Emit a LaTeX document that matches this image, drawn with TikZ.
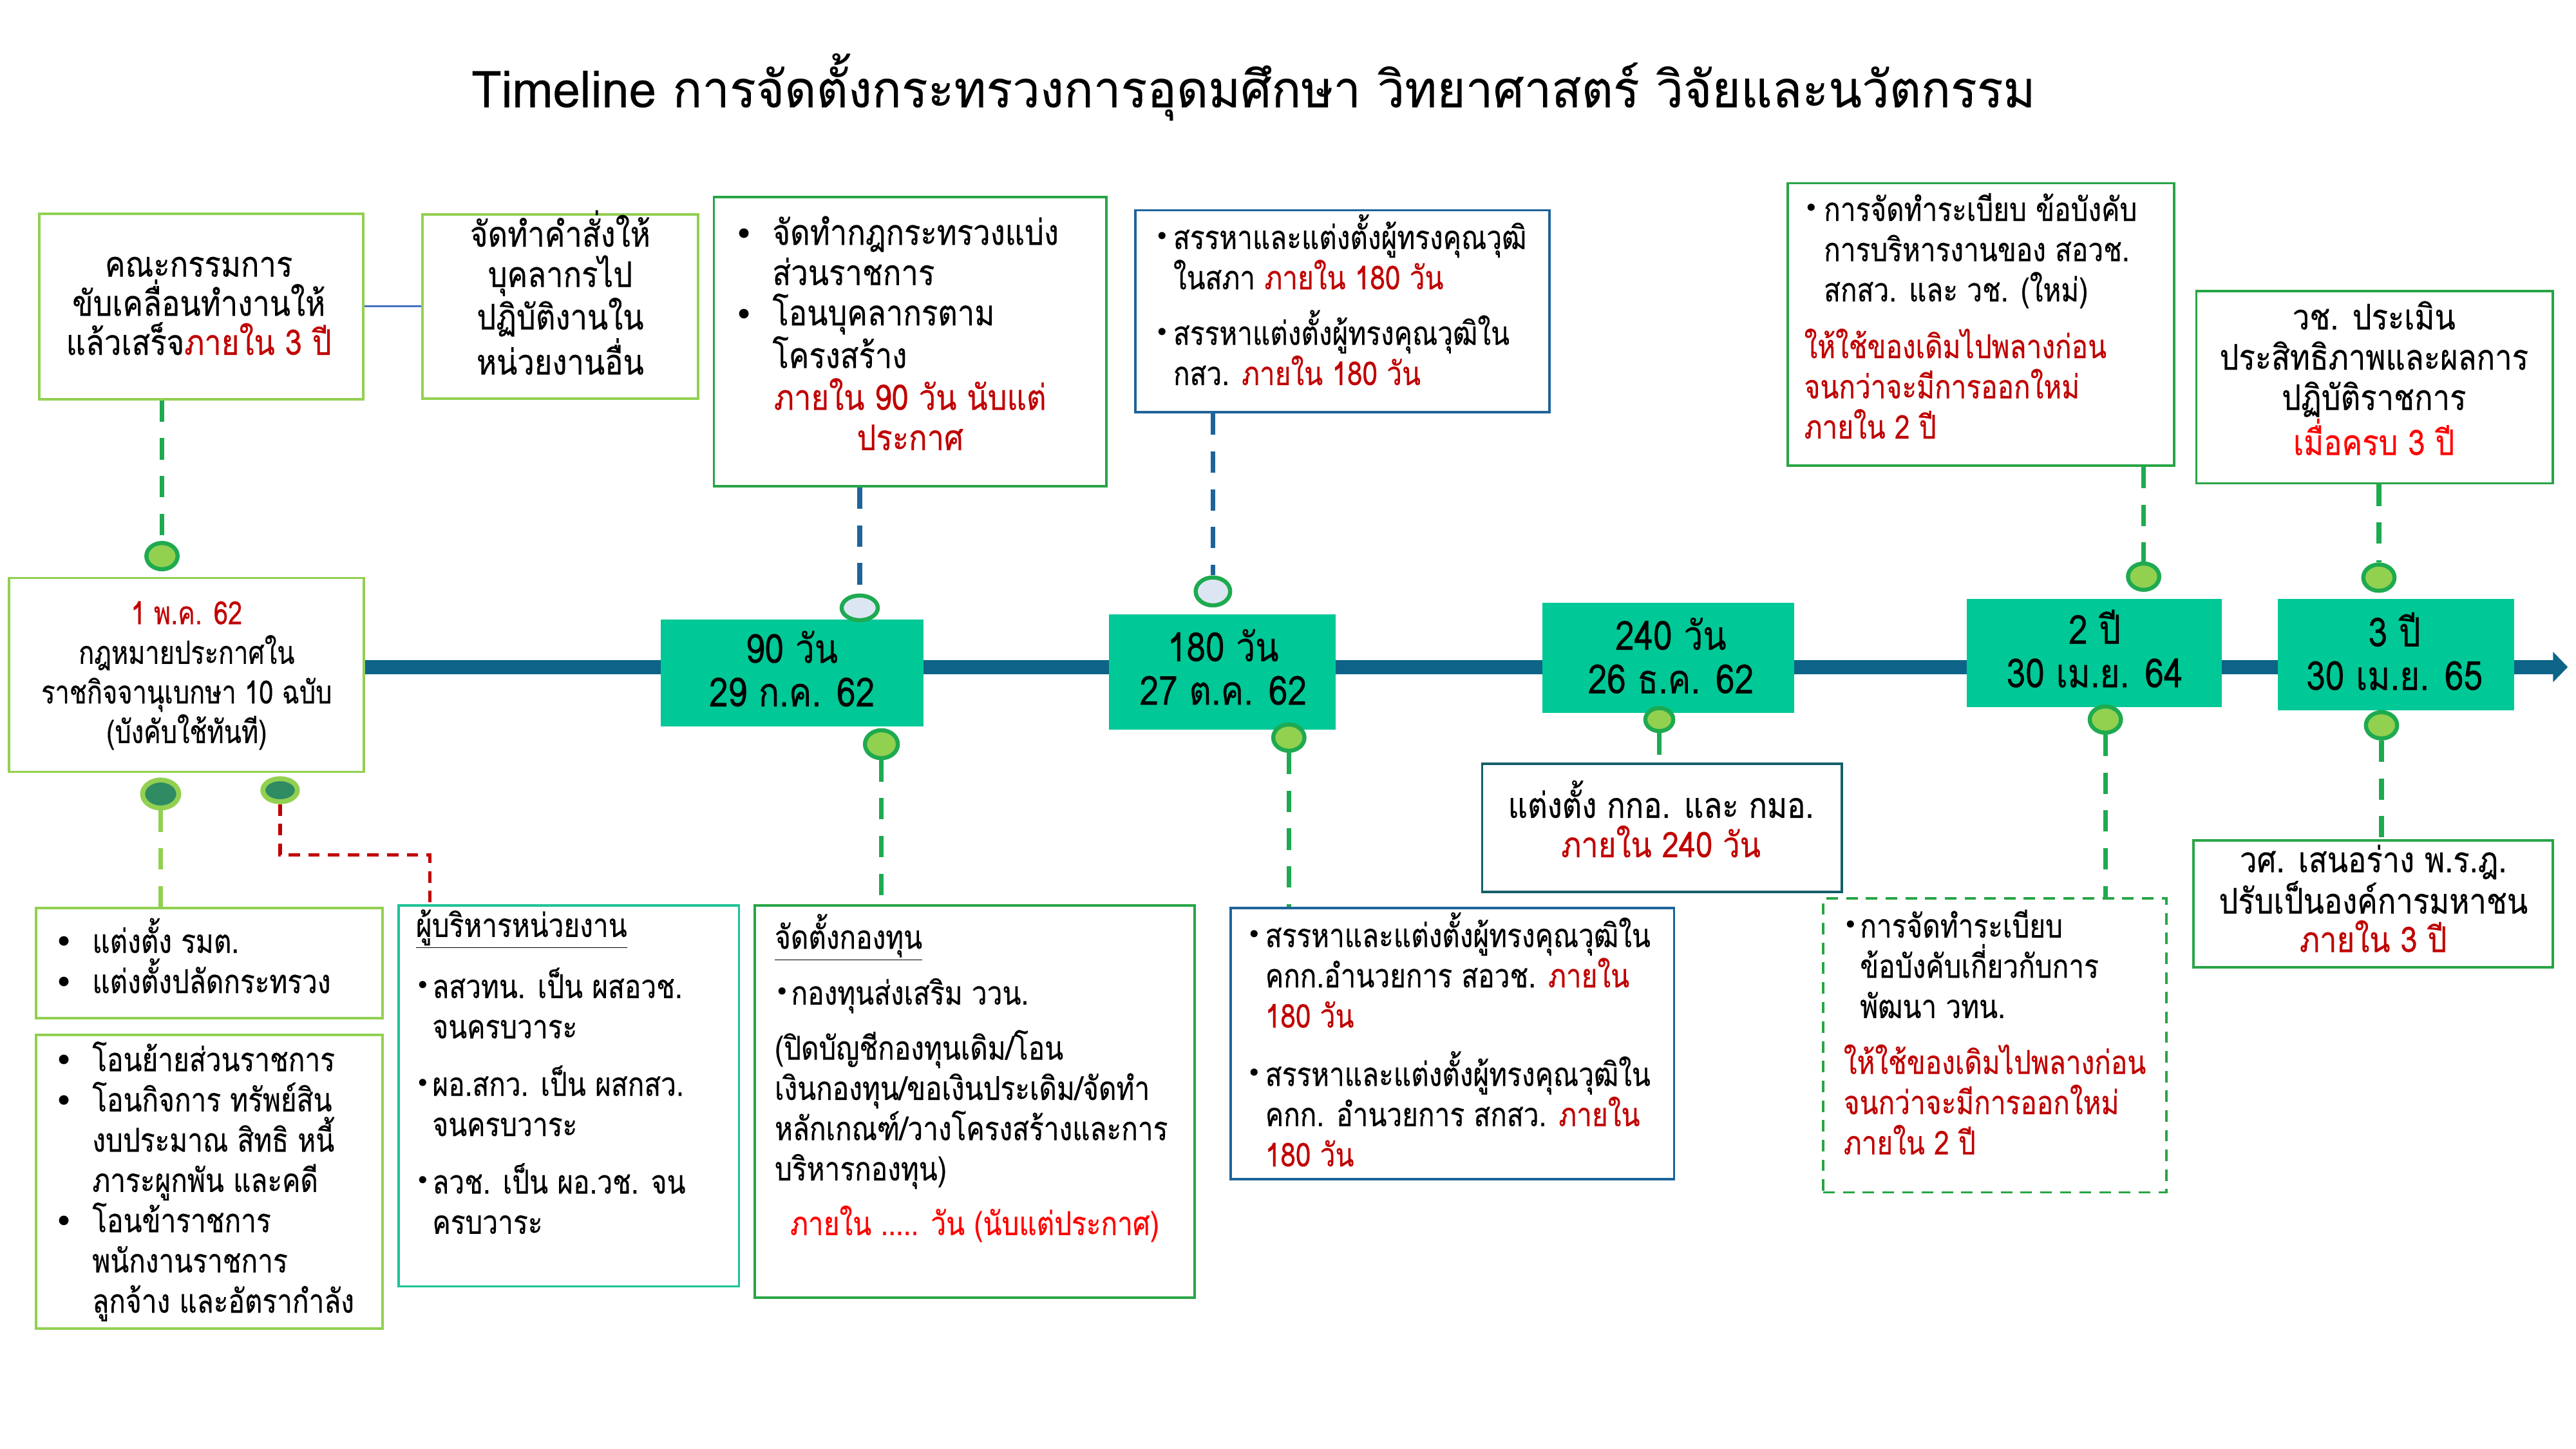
\documentclass[tikz,border=0pt]{standalone}
\usepackage{fontspec}
\setmainfont{Loma}[Script=Thai,FakeStretch=0.83,FakeBold=0.4]
\newfontfamily\fA{Loma}[Script=Thai,FakeStretch=0.86,FakeBold=0.4]
\newfontfamily\fS{Loma}[Script=Thai,FakeStretch=0.80,FakeBold=0.4]
\newfontfamily\fT{Loma}[Script=Thai,FakeStretch=0.85,FakeBold=0.3]
\newfontfamily\fTi{Loma}[Script=Thai,FakeStretch=0.96,FakeBold=0.3]
\newfontfamily\symf{DejaVu Sans}
\usetikzlibrary{arrows.meta,shapes.geometric}
\definecolor{tealbox}{RGB}{0,200,150}
\definecolor{barblue}{RGB}{14,100,136}
\definecolor{lgreen}{RGB}{146,208,80}
\definecolor{mgreen}{RGB}{40,165,70}
\definecolor{dgreen}{RGB}{30,170,80}
\definecolor{bblue}{RGB}{30,100,155}
\definecolor{hteal}{RGB}{30,195,150}
\definecolor{kteal}{RGB}{20,95,105}
\definecolor{dred}{RGB}{192,0,0}
\definecolor{bred}{RGB}{255,0,0}
\definecolor{paleblue}{RGB}{220,230,242}
\definecolor{darkfill}{RGB}{46,139,98}
\definecolor{linkblue}{RGB}{68,114,196}
\newcommand\bul{{\symf\fontsize{20}{20}\selectfont\raisebox{-0.5pt}{•}}}
\newcommand\sbul{{\symf\fontsize{15}{15}\selectfont\raisebox{2.5pt}{•}}}
\newcommand\bi[1]{\makebox[#1][l]{\bul}}
\newcommand\si[1]{\makebox[#1][l]{\sbul}}
\newcommand\ind[1]{\makebox[#1]{}}
\newcommand\rd[1]{\textcolor{dred}{#1}}
\newcommand\fsb{\fontsize{20}{24.5}\selectfont}
\newcommand\fsa{\fA\fontsize{21.5}{24.5}\selectfont}
\newcommand\fss{\fS\fontsize{19.5}{24.1}\selectfont}
\newcommand\fst{\fT\fontsize{24.5}{26.5}\selectfont}
\newcommand\fti{\fTi\fontsize{31}{34}\selectfont}
\begin{document}
\begin{tikzpicture}[x=1pt,y=-1pt,
  wbox/.style={draw, line width=1.5pt, fill=white, inner sep=0pt},
  tl/.style={fill=tealbox, inner sep=0pt},
  txt/.style={inner sep=0pt, align=left, anchor=base west, font=\fsb},
  ctxt/.style={inner sep=0pt, align=center, anchor=base, font=\fsb},
  atxt/.style={inner sep=0pt, align=center, anchor=base, font=\fsa},
  ttxt/.style={inner sep=0pt, align=center, anchor=base, font=\fst},
  dg/.style={draw=dgreen, line width=2.8pt, dash pattern=on 13pt off 10pt},
  db/.style={draw=bblue, line width=2.8pt, dash pattern=on 13pt off 10pt},
  dl/.style={draw=lgreen, line width=3pt, dash pattern=on 13pt off 10pt},
  dr/.style={draw=dred, line width=2pt, dash pattern=on 7pt off 5pt},
  dot/.style={ellipse, inner sep=0pt, minimum width=19pt, minimum height=16pt, line width=2.5pt},
  dotg/.style={dot, fill=lgreen, draw=dgreen},
  dotp/.style={dot, fill=paleblue, draw=dgreen, minimum width=22pt, minimum height=15pt},
  dotd/.style={dot, fill=darkfill, draw=lgreen, line width=3pt, minimum width=20pt, minimum height=15pt}]
\useasboundingbox (0,0) rectangle (1568,882);
\fill[white] (0,0) rectangle (1568,882);

% title
\node[inner sep=0pt, anchor=base, font=\fti] (title) at (763,65.3) {Timeline การจัดตั้งกระทรวงการอุดมศึกษา วิทยาศาสตร์ วิจัยและนวัตกรรม};

% timeline bar
\coordinate (barstart) at (221,406);
\coordinate (barend) at (1563,406);
\draw[barblue, line width=8.5pt, -{Triangle[length=9pt,width=18pt]}] (barstart) -- (barend);

% top boxes
\node[wbox, draw=lgreen, minimum width=197pt, minimum height=113pt] (A) at (122.5,186.5) {};
\node[wbox, draw=lgreen, minimum width=168pt, minimum height=112pt] (B) at (341,186.5) {};
\node[wbox, draw=mgreen, minimum width=239pt, minimum height=176pt] (C) at (554,208) {};
\node[wbox, draw=bblue, minimum width=252pt, minimum height=123pt] (D) at (817,189.5) {};
\node[wbox, draw=mgreen, minimum width=235pt, minimum height=172pt] (E) at (1205.8,197.5) {};
\node[wbox, draw=mgreen, minimum width=217pt, minimum height=117pt] (F) at (1445.4,235.7) {};
\draw[linkblue, line width=1.2pt] (A.east) -- (B.west);

\node[atxt, font=\fA\fontsize{21.5}{23.8}\selectfont] (Atx) at (121,216) {คณะกรรมการ\\ขับเคลื่อนทำงานให้\\แล้วเสร็จ\rd{ภายใน 3 ปี}};
\node[atxt] (Btx) at (341,228) {จัดทำคำสั่งให้\\บุคลากรไป\\ปฏิบัติงานใน\\หน่วยงานอื่น};
\node[atxt, align=left, anchor=base west] (Ctx) at (447,224) {\bi{23pt}จัดทำกฎกระทรวงแบ่ง\\\ind{23pt}ส่วนราชการ\\\bi{23pt}โอนบุคลากรตาม\\\ind{23pt}โครงสร้าง};
\node[atxt, text=dred] (Crd) at (554,274) {ภายใน 90 วัน นับแต่\\ประกาศ};
\node[txt] (Dtx) at (703,234.4) {\si{11pt}สรรหาและแต่งตั้งผู้ทรงคุณวุฒิ\\\ind{11pt}ในสภา \rd{ภายใน 180 วัน}\\[9.3pt]\si{11pt}สรรหาแต่งตั้งผู้ทรงคุณวุฒิใน\\\ind{11pt}กสว. \rd{ภายใน 180 วัน}};
\node[txt] (Etx) at (1098,267) {\si{12pt}การจัดทำระเบียบ ข้อบังคับ\\\ind{12pt}การบริหารงานของ สอวช.\\\ind{12pt}สกสว. และ วช. (ใหม่)\\[10pt]\rd{ให้ใช้ของเดิมไปพลางก่อน}\\\rd{จนกว่าจะมีการออกใหม่}\\\rd{ภายใน 2 ปี}};
\node[atxt] (Ftx) at (1445,277) {วช. ประเมิน\\ประสิทธิภาพและผลการ\\ปฏิบัติราชการ\\\textcolor{bred}{เมื่อครบ 3 ปี}};

% start box
\node[wbox, draw=lgreen, minimum width=216pt, minimum height=118pt] (S) at (113.5,410.8) {};
\node[ctxt, font=\fss] (Stx) at (113.6,452.3) {\rd{1 พ.ค. 62}\\กฎหมายประกาศใน\\ราชกิจจานุเบกษา 10 ฉบับ\\(บังคับใช้ทันที)};

% timeline boxes
\node[tl, minimum width=160pt, minimum height=65pt] (T1) at (482,409.5) {};
\node[tl, minimum width=138pt, minimum height=70pt] (T2) at (744,409) {};
\node[tl, minimum width=153pt, minimum height=67pt] (T3) at (1015.5,400.5) {};
\node[tl, minimum width=155pt, minimum height=66pt] (T4) at (1274.8,397.5) {};
\node[tl, minimum width=144pt, minimum height=68pt] (T5) at (1458.4,398.5) {};
\node[ttxt] (T1tx) at (482,430) {90 วัน\\29 ก.ค. 62};
\node[ttxt] (T2tx) at (744.5,429) {180 วัน\\27 ต.ค. 62};
\node[ttxt] (T3tx) at (1017,422) {240 วัน\\26 ธ.ค. 62};
\node[ttxt] (T4tx) at (1275,418.4) {2 ปี\\30 เม.ย. 64};
\node[ttxt] (T5tx) at (1457.5,420) {3 ปี\\30 เม.ย. 65};

% bottom boxes
\node[wbox, draw=lgreen, minimum width=211pt, minimum height=67pt] (G1) at (127.5,586.3) {};
\node[wbox, draw=lgreen, minimum width=211pt, minimum height=179pt] (G2) at (127.5,719.3) {};
\node[wbox, draw=hteal, minimum width=207pt, minimum height=232pt] (H) at (346.3,667) {};
\node[wbox, draw=mgreen, minimum width=268pt, minimum height=239pt] (I) at (593.3,670.5) {};
\node[wbox, draw=bblue, minimum width=270pt, minimum height=165pt] (J) at (884,635.3) {};
\node[wbox, draw=kteal, minimum width=219pt, minimum height=78pt] (K) at (1011.7,504) {};
\node[wbox, draw=mgreen, dash pattern=on 7pt off 5pt, minimum width=209pt, minimum height=179pt] (L) at (1214.3,636.3) {};
\node[wbox, draw=mgreen, minimum width=219pt, minimum height=77pt] (M) at (1444.5,550.2) {};

\node[txt] (G1tx) at (33,604.5) {\bi{23pt}แต่งตั้ง รมต.\\\bi{23pt}แต่งตั้งปลัดกระทรวง};
\node[txt] (G2tx) at (33,799) {\bi{23pt}โอนย้ายส่วนราชการ\\\bi{23pt}โอนกิจการ ทรัพย์สิน\\\ind{23pt}งบประมาณ สิทธิ หนี้\\\ind{23pt}ภาระผูกพัน และคดี\\\bi{23pt}โอนข้าราชการ\\\ind{23pt}พนักงานราชการ\\\ind{23pt}ลูกจ้าง และอัตรากำลัง};
\node[txt] (Htx) at (253,751) {\underline{ผู้บริหารหน่วยงาน}\\[10.5pt]\si{10pt}ลสวทน. เป็น ผสอวช.\\\ind{10pt}จนครบวาระ\\[10.5pt]\si{10pt}ผอ.สกว. เป็น ผสกสว.\\\ind{10pt}จนครบวาระ\\[10.5pt]\si{10pt}ลวช. เป็น ผอ.วช. จน\\\ind{10pt}ครบวาระ};
\node[txt] (Itx) at (471.4,718.5) {\underline{จัดตั้งกองทุน}\\[9.5pt]\si{10pt}กองทุนส่งเสริม ววน.\\[9pt](ปิดบัญชีกองทุนเดิม/โอน\\เงินกองทุน/ขอเงินประเดิม/จัดทำ\\หลักเกณฑ์/วางโครงสร้างและการ\\บริหารกองทุน)};
\node[txt, text=bred] (Ird) at (480.8,751.8) {ภายใน ..... วัน (นับแต่ประกาศ)};
\node[txt] (Jtx) at (759,710) {\si{11pt}สรรหาและแต่งตั้งผู้ทรงคุณวุฒิใน\\\ind{11pt}คกก.อำนวยการ สอวช. \rd{ภายใน}\\\ind{11pt}\rd{180 วัน}\\[11pt]\si{11pt}สรรหาและแต่งตั้งผู้ทรงคุณวุฒิใน\\\ind{11pt}คกก. อำนวยการ สกสว. \rd{ภายใน}\\\ind{11pt}\rd{180 วัน}};
\node[atxt, font=\fA\fontsize{21.5}{24}\selectfont] (Ktx) at (1011,521.8) {แต่งตั้ง กกอ. และ กมอ.\\\rd{ภายใน 240 วัน}};
\node[txt] (Ltx) at (1122,702.7) {\si{10pt}การจัดทำระเบียบ\\\ind{10pt}ข้อบังคับเกี่ยวกับการ\\\ind{10pt}พัฒนา วทน.\\[9.5pt]\rd{ให้ใช้ของเดิมไปพลางก่อน}\\\rd{จนกว่าจะมีการออกใหม่}\\\rd{ภายใน 2 ปี}};
\node[atxt, font=\fA\fontsize{21.5}{23.4}\selectfont] (Mtx) at (1444.6,579.5) {วศ. เสนอร่าง พ.ร.ฎ.\\ปรับเป็นองค์การมหาชน\\\rd{ภายใน 3 ปี}};

% dots
\node[dotg] (cA) at (98.6,338.5) {};
\node[dotp] (cC) at (523.3,370) {};
\node[dotp, minimum width=21pt, minimum height=17pt] (cD) at (738.3,360) {};
\node[dotg] (cE) at (1304.8,351) {};
\node[dotg] (cF) at (1448,351.6) {};
\node[dotd, minimum width=22pt, minimum height=17pt] (cG) at (97.8,483.3) {};
\node[dotd, minimum width=21pt, minimum height=14pt] (cH) at (170.5,481) {};
\node[dotg, minimum width=20pt, minimum height=17pt] (c1) at (536.5,453) {};
\node[dotg] (c2) at (784.5,449) {};
\node[dotg, minimum width=17pt, minimum height=14pt] (c3) at (1010,438) {};
\node[dotg] (c4) at (1281.5,438) {};
\node[dotg] (c5) at (1449.6,441.5) {};

% connectors
\draw[dg] (cA |- A.south) -- (cA.north);
\draw[db] (cC |- C.south) -- (cC.north);
\draw[db] (cD |- D.south) -- (cD.north);
\draw[dg] (cE |- E.south) -- (cE.north);
\draw[dg] (cF |- F.south) -- (cF.north);
\draw[dl] (cG.south) -- (cG |- G1.north);
\coordinate (hb) at (261.7,520.4);
\draw[dr] (cH.south) |- (hb) -- (hb |- H.north);
\draw[dg] (c1.south) -- (c1 |- I.north);
\draw[dg] (c2.south) -- (c2 |- J.north);
\draw[dg] (c3.south) -- (c3 |- K.north);
\draw[dg] (c4.south) -- (c4 |- L.north);
\draw[dg] (c5.south) -- (c5 |- M.north);
\end{tikzpicture}
\end{document}
